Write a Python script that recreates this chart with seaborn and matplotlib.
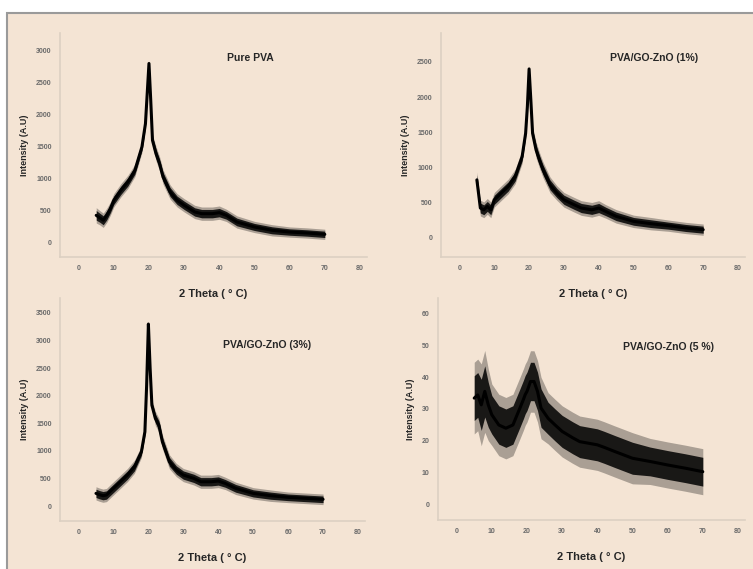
import numpy as np
import pandas as pd
import seaborn as sns
import matplotlib.pyplot as plt
from matplotlib.patches import Rectangle

# values (2 theta in degrees, intensity in A.U)
theta = [5, 6, 7, 8, 9, 10, 12, 14, 16, 18, 19, 19.5, 20, 20.5, 21, 22, 23, 24, 26, 28,
         30, 33, 35, 38, 40, 42, 45, 50, 55, 60, 65, 70]

pure_pva = [417, 380, 340, 417, 520, 652, 808, 940, 1120, 1487, 1850, 2320, 2790, 2217, 1590,
            1380, 1225, 1017, 782, 652, 574, 470, 443, 443, 459, 417, 313, 235, 183, 156, 141, 120]
pure_spread = [75, 70, 70, 70, 65, 65, 65, 65, 60, 55, 45, 35, 30, 35, 55, 70, 70, 70, 70, 65,
               65, 65, 65, 65, 65, 60, 60, 55, 55, 50, 50, 50]

go1 = [825, 425, 400, 448, 400, 542, 637, 731, 873, 1156, 1486, 1863, 2400, 1958, 1486,
       1250, 1100, 967, 755, 637, 542, 470, 425, 400, 425, 377, 307, 236, 203, 175, 142, 118]
go1_spread = [70, 70, 70, 70, 70, 65, 65, 65, 65, 60, 45, 35, 30, 35, 55, 70, 70, 70, 70, 65,
              65, 65, 65, 65, 65, 60, 60, 55, 55, 50, 50, 50]

go3 = [229, 205, 187, 199, 260, 320, 440, 561, 712, 984, 1346, 2190, 3300, 2492, 1829,
       1587, 1466, 1165, 803, 652, 561, 501, 440, 440, 453, 410, 320, 229, 187, 157, 139, 121]
go3_spread = [75, 75, 75, 75, 75, 75, 75, 75, 75, 65, 55, 40, 35, 40, 60, 80, 80, 80, 80, 75,
              75, 75, 75, 75, 75, 70, 70, 65, 65, 60, 60, 60]

go5 = [33.4, 34.4, 31.3, 35.5, 31.3, 28.2, 25.0, 24.0, 25.0, 30.3, 33.0, 34.5, 35.5, 37.0, 38.6,
       38.6, 35.5, 30.3, 27.1, 25.0, 23.0, 21.0, 19.8, 19.2, 18.8, 18.0, 16.7, 14.6, 13.6, 12.5,
       11.5, 10.4]
go5_spread = [7, 7, 8, 8, 7, 6, 6, 6, 6, 6, 6, 6, 6, 6, 6, 6, 6, 6, 5, 5,
              5, 5, 5, 5, 5, 5, 5, 5, 4.5, 4.5, 4.5, 4.5]

titles = ["Pure PVA", "PVA/GO-ZnO (1%)", "PVA/GO-ZnO (3%)", "PVA/GO-ZnO (5 %)"]
series = [pure_pva, go1, go3, go5]
spreads = [pure_spread, go1_spread, go3_spread, go5_spread]
yticks = [list(range(0, 3001, 500)), list(range(0, 2501, 500)),
          list(range(0, 3501, 500)), list(range(0, 61, 10))]
ylims = [(-234, 3266), (-270, 2910), (-272, 3772), (-4.7, 64.7)]
xticks = list(range(0, 81, 10))

sns.set_style("ticks")
plt.rcParams['font.family'] = ['Liberation Sans', 'DejaVu Sans']

bg = '#f4e4d4'
fig = plt.figure(figsize=(7.53, 5.69), dpi=100, facecolor='white')
fig.patches.append(Rectangle((7 / 753, -0.1), 1.2, 1.1 - 13 / 569, transform=fig.transFigure,
                             facecolor=bg, edgecolor='#9a9a9a', linewidth=1.5, zorder=-10))

# axes boxes in pixels: left, bottom(from top), right, top(from top)
boxes = [(60, 257, 367, 33), (441, 257, 745, 33), (60, 521, 365, 298), (438, 520, 745, 298)]
title_pos = [(0.62, 0.89), (0.70, 0.89), (0.68, 0.79), (0.75, 0.78)]

for i in range(4):
    l, b, r, t = boxes[i]
    ax = fig.add_axes([l / 753, 1 - b / 569, (r - l) / 753, (b - t) / 569])
    ax.set_facecolor('none')
    df = pd.DataFrame({'theta': theta, 'intensity': series[i]})
    y = np.array(series[i])
    s = np.array(spreads[i])
    ax.fill_between(theta, y - 1.6 * s, y + 1.6 * s, color='black', alpha=0.3, linewidth=0)
    ax.fill_between(theta, y - s, y + s, color='black', alpha=0.85, linewidth=0)
    sns.lineplot(data=df, x='theta', y='intensity', ax=ax, color='black', linewidth=2.2)
    ax.set_xlim(-5.3, 82)
    ax.set_ylim(*ylims[i])
    ax.set_xticks(xticks)
    ax.set_yticks(yticks[i])
    ax.tick_params(length=0, labelsize=5, labelcolor='#6a6a6a', pad=6)
    for lab in ax.get_xticklabels() + ax.get_yticklabels():
        lab.set_fontweight('bold')
    for side in ['top', 'right']:
        ax.spines[side].set_visible(False)
    for side in ['left', 'bottom']:
        ax.spines[side].set_color('#dcd0c2')
        ax.spines[side].set_linewidth(1.2)
    ax.set_xlabel("2 Theta ( \u00b0 C)", fontsize=8, fontweight='bold', labelpad=12)
    ax.set_ylabel("Intensity (A.U)", fontsize=6.5, fontweight='bold', labelpad=5)
    ax.text(title_pos[i][0], title_pos[i][1], titles[i], transform=ax.transAxes,
            ha='center', va='center', fontsize=7.5, fontweight='bold')

fig.savefig('out.png', dpi=100, facecolor=fig.get_facecolor())
